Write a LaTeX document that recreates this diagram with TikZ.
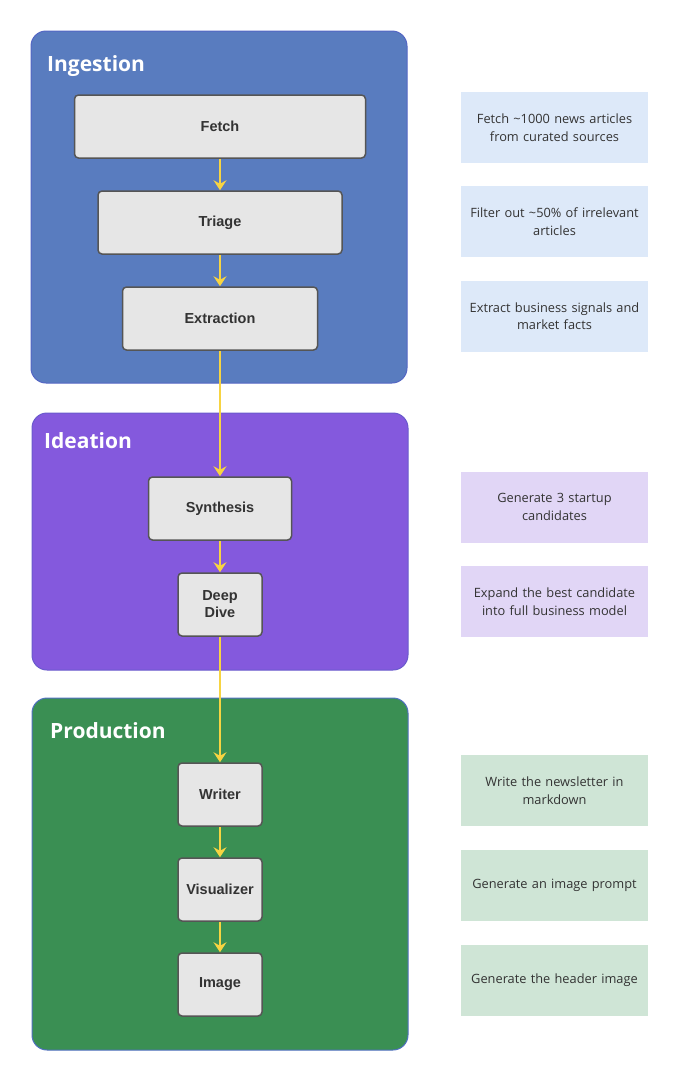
\documentclass[tikz,border=0pt]{standalone}
\usepackage{fontspec}
\setmainfont{Open Sans}
\newfontfamily\boxfont{Liberation Sans}
\usetikzlibrary{arrows.meta}
\definecolor{ingfill}{HTML}{597CBF}
\definecolor{ingdraw}{HTML}{5466C4}
\definecolor{idefill}{HTML}{8459DD}
\definecolor{idedraw}{HTML}{6A5ACD}
\definecolor{prodfill}{HTML}{3A8F53}
\definecolor{proddraw}{HTML}{5070C0}
\definecolor{stepfill}{HTML}{E6E6E6}
\definecolor{stepdraw}{HTML}{555555}
\definecolor{notea}{HTML}{DDE9F9}
\definecolor{noteb}{HTML}{E1D6F6}
\definecolor{notec}{HTML}{CFE5D6}
\definecolor{arrowcol}{HTML}{F7D442}
\definecolor{txt}{HTML}{333333}
\tikzset{
  group/.style={rounded corners=15pt, line width=1pt},
  grouptitle/.style={anchor=base west, text=white, font=\fontsize{21}{25}\selectfont\bfseries, inner sep=0pt},
  stepbox/.style={draw=stepdraw, fill=stepfill, rounded corners=4pt, line width=1.5pt, font=\boxfont\fontsize{14.5}{17}\selectfont\bfseries, text=txt, align=center, inner sep=0pt},
  notebox/.style={minimum width=187pt, minimum height=71pt, text width=182pt, align=center, inner sep=0pt, font=\fontsize{12.8}{17.5}\selectfont, text=txt},
  flow/.style={draw=arrowcol, line width=2.3pt, -{Stealth[length=10pt,width=13pt,inset=3.5pt]}}
}
\begin{document}
\begin{tikzpicture}[x=1pt,y=-1pt]
\useasboundingbox (0,0) rectangle (678,1080);
% groups
\draw[group, fill=ingfill, draw=ingdraw] (31,31) rectangle (407,383);
\node[grouptitle] (tIng) at (47,71) {Ingestion};
\draw[group, fill=idefill, draw=idedraw] (32,413) rectangle (408,670);
\node[grouptitle] (tIde) at (44,448) {Ideation};
\draw[group, fill=prodfill, draw=proddraw] (32,698) rectangle (408,1050);
\node[grouptitle] (tProd) at (50,738) {Production};
% steps
\node[stepbox, minimum width=291pt, minimum height=63pt] (fetch) at (220,126.5) {Fetch};
\node[stepbox, minimum width=244pt, minimum height=63pt] (triage) at (220,222.5) {Triage};
\node[stepbox, minimum width=195pt, minimum height=63pt] (extract) at (220,318.5) {Extraction};
\node[stepbox, minimum width=143pt, minimum height=63pt] (synth) at (220,508.5) {Synthesis};
\node[stepbox, minimum width=84pt, minimum height=63pt] (deep) at (220,604.5) {Deep\\Dive};
\node[stepbox, minimum width=84pt, minimum height=63pt] (writer) at (220,794.5) {Writer};
\node[stepbox, minimum width=84pt, minimum height=63pt] (visual) at (220,889.5) {Visualizer};
\node[stepbox, minimum width=84pt, minimum height=63pt] (image) at (220,984.5) {Image};
% arrows
\draw[flow] (fetch) -- (triage);
\draw[flow] (triage) -- (extract);
\draw[flow] (extract) -- (synth);
\draw[flow] (synth) -- (deep);
\draw[flow] (deep) -- (writer);
\draw[flow] (writer) -- (visual);
\draw[flow] (visual) -- (image);
% notes
\node[notebox, fill=notea] (n1) at (554.5,127.5) {Fetch \textasciitilde1000 news articles\\from curated sources};
\node[notebox, fill=notea] (n2) at (554.5,221.5) {Filter out \textasciitilde50\% of irrelevant\\articles};
\node[notebox, fill=notea] (n3) at (554.5,316) {Extract business signals and\\market facts};
\node[notebox, fill=noteb] (n4) at (554.5,507) {Generate 3 startup\\candidates};
\node[notebox, fill=noteb] (n5) at (554.5,601.5) {Expand the best candidate\\into full business model};
\node[notebox, fill=notec] (n6) at (554.5,790.5) {Write the newsletter in\\markdown};
\node[notebox, fill=notec] (n7) at (554.5,885.5) {Generate an image prompt};
\node[notebox, fill=notec] (n8) at (554.5,980.5) {Generate the header image};
\end{tikzpicture}
\end{document}
